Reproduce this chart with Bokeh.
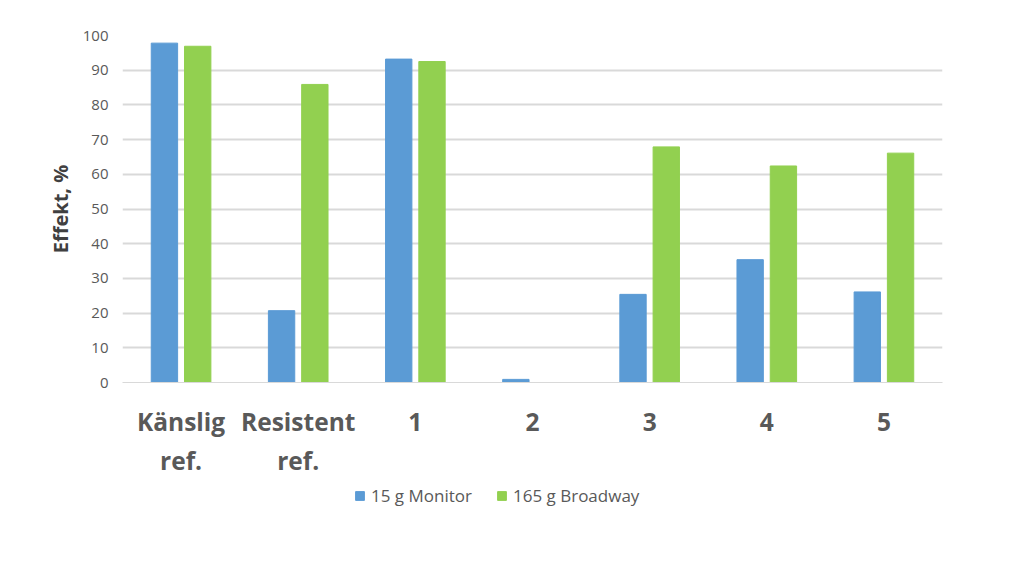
from bokeh.plotting import figure
from bokeh.layouts import column
from bokeh.models import Range1d, FixedTicker, Legend, LegendItem, ColumnDataSource
from bokeh.embed import file_html
from bokeh.resources import INLINE

categories = ["Känslig\nref.", "Resistent\nref.", "1", "2", "3", "4", "5"]
monitor = [97.8, 20.7, 93.2, 0.9, 25.4, 35.4, 26.1]
broadway = [96.9, 85.9, 92.5, 0.0, 67.9, 62.4, 66.1]
series_names = ["15 g Monitor", "165 g Broadway"]
y_ticks = [0, 10, 20, 30, 40, 50, 60, 70, 80, 90, 100]
colors = ["#5b9bd5", "#92d050"]

xs = list(range(len(categories)))
src = ColumnDataSource(dict(
    x_m=[x - 0.142 for x in xs], x_b=[x + 0.142 for x in xs],
    monitor=monitor, broadway=broadway))

p = figure(width=1024, height=480, output_backend="svg", toolbar_location=None,
           x_range=Range1d(-0.5, len(categories) - 0.5), y_range=Range1d(0, 100),
           min_border_left=122, min_border_right=82, min_border_top=35, min_border_bottom=97)
p.outline_line_color = None
p.background_fill_color = "white"

p.vbar(x="x_m", top="monitor", width=0.225, source=src, color=colors[0])
p.vbar(x="x_b", top="broadway", width=0.225, source=src, color=colors[1])

p.xaxis.ticker = FixedTicker(ticks=xs)
p.xaxis.major_label_overrides = {i: c for i, c in enumerate(categories)}
p.xaxis.major_label_text_font = "Open Sans"
p.xaxis.major_label_text_font_style = "bold"
p.xaxis.major_label_text_font_size = "24.5px"
p.xaxis.major_label_text_color = "#595959"
p.xaxis.major_label_standoff = 16
p.xaxis.axis_line_color = "#d9d9d9"
p.xaxis.major_tick_line_color = None
p.xaxis.minor_tick_line_color = None

p.yaxis.ticker = FixedTicker(ticks=y_ticks)
p.yaxis.major_label_text_font = "Open Sans"
p.yaxis.major_label_text_font_size = "15px"
p.yaxis.major_label_text_color = "#595959"
p.yaxis.axis_line_color = None
p.yaxis.major_tick_line_color = None
p.yaxis.minor_tick_line_color = None
p.yaxis.major_label_standoff = 8
p.yaxis.axis_label = "Effekt, %"
p.yaxis.axis_label_text_font = "Open Sans"
p.yaxis.axis_label_text_font_style = "bold"
p.yaxis.axis_label_text_font_size = "20px"
p.yaxis.axis_label_text_color = "#404040"
p.yaxis.axis_label_standoff = 6

p.xgrid.grid_line_color = None
p.ygrid.grid_line_color = "#d9d9d9"
p.ygrid.grid_line_width = 2

# legend strip below the chart (its frame is aligned with the chart's frame)
lg = figure(width=1024, height=96, output_backend="svg", toolbar_location=None,
            x_range=Range1d(0, 1), y_range=Range1d(0, 1),
            x_axis_location=None, y_axis_location=None,
            min_border_left=0, min_border_right=0, min_border_top=0, min_border_bottom=0)
lg.outline_line_color = None
lg.xgrid.grid_line_color = None
lg.ygrid.grid_line_color = None
# swatch-only renderers, placed fully outside the visible ranges
hidden = ColumnDataSource(dict(x=[-10], top=[-5], bottom=[-6]))
d1 = lg.vbar(x="x", top="top", bottom="bottom", width=0.1, source=hidden, color=colors[0])
d2 = lg.vbar(x="x", top="top", bottom="bottom", width=0.1, source=hidden, color=colors[1])

legend = Legend(items=[LegendItem(label=series_names[0], renderers=[d1]),
                       LegendItem(label=series_names[1], renderers=[d2])],
                orientation="horizontal", location=(232, 69),
                label_text_font="Open Sans", label_text_font_size="17px",
                label_text_color="#595959", glyph_width=11, glyph_height=11,
                spacing=24, border_line_color=None, background_fill_alpha=0,
                label_standoff=6, margin=0, padding=0)
lg.add_layout(legend, "center")

open("out.html", "w").write(file_html(column(p, lg), INLINE))
